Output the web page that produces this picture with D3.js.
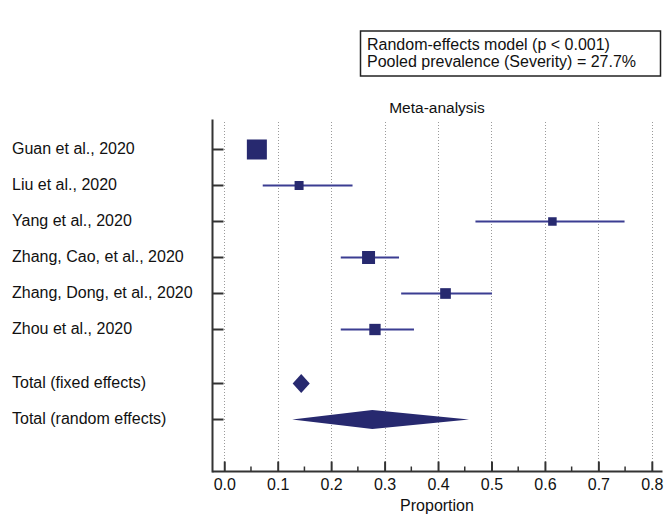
<!DOCTYPE html>
<html>
<head>
<meta charset="utf-8">
<script src="https://cdn.jsdelivr.net/npm/d3@7"></script>
<style>
  body { margin: 0; background: #fff; }
  svg text { font-family: "Liberation Sans", Arial, sans-serif; fill: #111; }
</style>
</head>
<body>
<svg id="chart" width="665" height="514"></svg>
<script>
// studies
var studies = ['Guan et al., 2020', 'Liu et al., 2020', 'Yang et al., 2020',
  'Zhang, Cao, et al., 2020', 'Zhang, Dong, et al., 2020', 'Zhou et al., 2020']
var estimates = [0.061, 0.140, 0.614, 0.270, 0.414, 0.282]
var lower = [0.050, 0.072, 0.470, 0.218, 0.331, 0.218]
var upper = [0.074, 0.240, 0.749, 0.327, 0.501, 0.355]
var weights = [41.5, 8.4, 7.5, 17.5, 11.8, 13.3]

// pooled
var totals = ['Total (fixed effects)', 'Total (random effects)']
var totalEst = [0.144, 0.277]
var totalLow = [0.128, 0.127]
var totalHigh = [0.160, 0.458]

var xTicks = [0, 0.1, 0.2, 0.3, 0.4, 0.5, 0.6, 0.7, 0.8]
var boxLines = ['Random-effects model (p < 0.001)', 'Pooled prevalence (Severity) = 27.7%']

const navy = '#27296f'
const lineCol = '#3b3d92'
const fs = 16

var svg = d3.select('#chart')

var x = d3.scaleLinear().domain([-0.022, 0.82]).range([212.5, 662.5])
var y = d3.scaleLinear().domain([-0.833, 8.944]).range([119.5, 471.5])
var size = d3.scaleSqrt().domain([0, d3.max(weights)]).range([0, 20])

// rows: studies, then half row gap, then totals
var rowOf = function (i) { return i }
var totalRow = function (j) { return studies.length + 0.5 + j }

// grid
svg.append('g').selectAll('line')
  .data(xTicks)
  .join('line')
  .attr('x1', d => Math.round(x(d)) + 0.5)
  .attr('x2', d => Math.round(x(d)) + 0.5)
  .attr('y1', 122)
  .attr('y2', 471)
  .attr('stroke', '#9a9a9a')
  .attr('stroke-width', 1)
  .attr('stroke-dasharray', '1,2')

// bottom axis, ticks pointing inward
var xAxis = d3.axisBottom(x).tickValues(xTicks).tickFormat(d3.format('.1f')).tickSize(-10).tickPadding(7)
var gx = svg.append('g').attr('transform', 'translate(0,' + y.range()[1] + ')').call(xAxis)
gx.select('.domain').remove()
gx.selectAll('.tick line').attr('stroke', '#333').attr('stroke-width', 2)
gx.selectAll('.tick text').attr('font-size', fs).style('fill', '#111')
  .attr('font-family', '"Liberation Sans", Arial, sans-serif')

var minor = d3.range(0.05, 0.8, 0.1)
svg.append('g').selectAll('line')
  .data(minor)
  .join('line')
  .attr('x1', d => x(d)).attr('x2', d => x(d))
  .attr('y1', y.range()[1] - 5).attr('y2', y.range()[1])
  .attr('stroke', '#333').attr('stroke-width', 1.5)

svg.append('line')
  .attr('x1', x.range()[0]).attr('x2', x.range()[1])
  .attr('y1', y.range()[1]).attr('y2', y.range()[1])
  .attr('stroke', '#333').attr('stroke-width', 2)

// left axis
svg.append('line')
  .attr('x1', x.range()[0]).attr('x2', x.range()[0])
  .attr('y1', y.range()[0]).attr('y2', y.range()[1] + 1)
  .attr('stroke', '#333').attr('stroke-width', 2)

var rows = studies.map((d, i) => rowOf(i)).concat(totals.map((d, j) => totalRow(j)))
var labels = studies.concat(totals)

svg.append('g').selectAll('line')
  .data(rows)
  .join('line')
  .attr('x1', x.range()[0]).attr('x2', x.range()[0] + 11)
  .attr('y1', d => y(d)).attr('y2', d => y(d))
  .attr('stroke', '#333').attr('stroke-width', 2)

svg.append('g').selectAll('text')
  .data(labels)
  .join('text')
  .attr('x', 12)
  .attr('y', (d, i) => y(rows[i]))
  .attr('dy', '0.28em')
  .attr('font-size', fs)
  .text(d => d)

// study CIs and squares
svg.append('g').selectAll('line')
  .data(studies)
  .join('line')
  .attr('x1', (d, i) => x(lower[i]))
  .attr('x2', (d, i) => x(upper[i]))
  .attr('y1', (d, i) => y(rowOf(i)))
  .attr('y2', (d, i) => y(rowOf(i)))
  .attr('stroke', lineCol)
  .attr('stroke-width', 2)

svg.append('g').selectAll('rect')
  .data(studies)
  .join('rect')
  .attr('x', (d, i) => x(estimates[i]) - size(weights[i]) / 2)
  .attr('y', (d, i) => y(rowOf(i)) - size(weights[i]) / 2)
  .attr('width', (d, i) => size(weights[i]))
  .attr('height', (d, i) => size(weights[i]))
  .attr('fill', navy)

// pooled diamonds
svg.append('g').selectAll('path')
  .data(totals)
  .join('path')
  .attr('d', function (d, j) {
    var cy = y(totalRow(j))
    return 'M' + x(totalLow[j]) + ',' + cy +
      'L' + x(totalEst[j]) + ',' + (cy - 9.5) +
      'L' + x(totalHigh[j]) + ',' + cy +
      'L' + x(totalEst[j]) + ',' + (cy + 9.5) + 'Z'
  })
  .attr('fill', navy)

// titles
svg.append('text')
  .attr('x', 437).attr('y', 113)
  .attr('text-anchor', 'middle')
  .attr('font-size', 15.5)
  .text('Meta-analysis')

svg.append('text')
  .attr('x', 437).attr('y', 511)
  .attr('text-anchor', 'middle')
  .attr('font-size', fs)
  .text('Proportion')

// info box
svg.append('rect')
  .attr('x', 360.5).attr('y', 31)
  .attr('width', 300).attr('height', 45)
  .attr('fill', '#fff')
  .attr('stroke', '#222')
  .attr('stroke-width', 1.5)

svg.append('g').selectAll('text')
  .data(boxLines)
  .join('text')
  .attr('x', 367)
  .attr('y', (d, i) => 49.5 + i * 17.5)
  .attr('font-size', fs)
  .text(d => d)
</script>
</body>
</html>
